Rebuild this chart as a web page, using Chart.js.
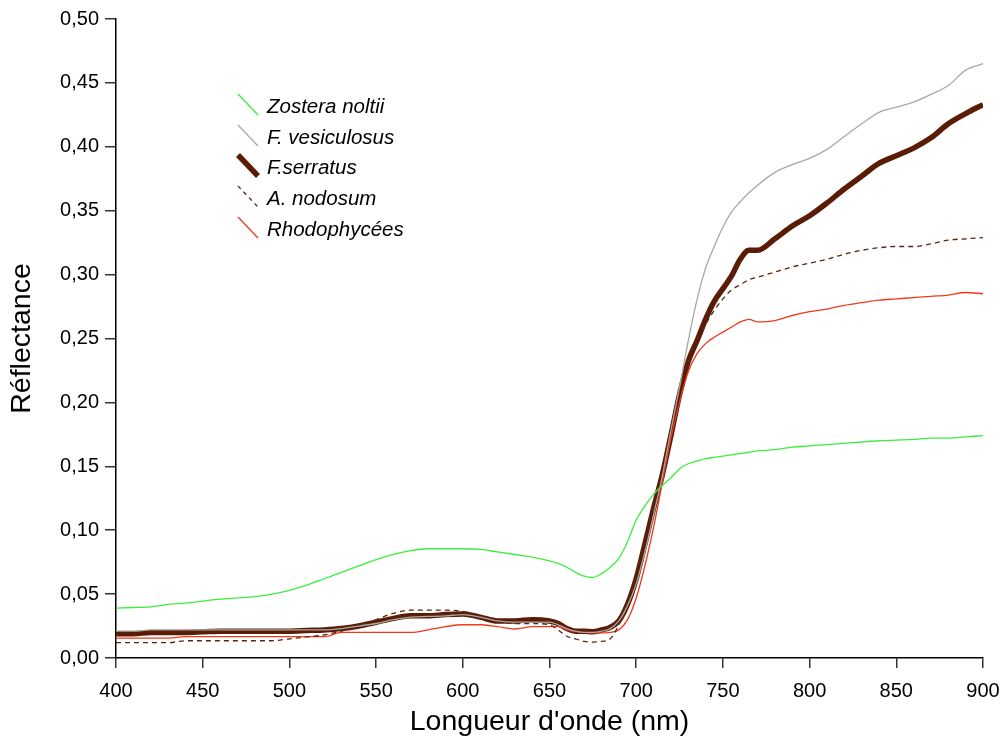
<!DOCTYPE html>
<html>
<head>
<meta charset="utf-8">
<script src="https://cdn.jsdelivr.net/npm/chart.js@4/dist/chart.umd.min.js"></script>
<style>
  html, body { margin: 0; padding: 0; background: #fff; }
  #wrap { width: 1003px; height: 740px; position: relative; }
</style>
</head>
<body>
<div id="wrap"><canvas id="c" width="1003" height="740"></canvas></div>
<script>
// Wavelength grid (nm)
const wavelengths = [400,410,420,430,440,450,460,470,480,490,500,510,520,530,540,550,560,570,580,590,600,610,620,630,640,650,655,660,665,670,675,680,685,690,695,700,705,710,715,720,725,730,735,740,745,750,755,760,765,770,780,790,800,810,820,830,840,850,860,870,880,890,900];

const zostera = [0.039,0.0395,0.040,0.042,0.043,0.0445,0.046,0.047,0.048,0.050,0.053,0.057,0.062,0.067,0.072,0.077,0.081,0.084,0.0855,0.0855,0.0855,0.085,0.083,0.081,0.079,0.076,0.074,0.071,0.067,0.064,0.063,0.066,0.071,0.078,0.091,0.108,0.119,0.128,0.135,0.141,0.148,0.152,0.154,0.156,0.157,0.158,0.159,0.160,0.161,0.162,0.163,0.165,0.166,0.167,0.168,0.169,0.170,0.1705,0.171,0.172,0.172,0.173,0.174];

const vesiculosus = [0.021,0.021,0.022,0.022,0.022,0.022,0.022,0.022,0.022,0.022,0.022,0.022,0.022,0.023,0.025,0.027,0.030,0.032,0.0325,0.033,0.034,0.032,0.029,0.028,0.028,0.028,0.026,0.023,0.021,0.020,0.020,0.021,0.023,0.029,0.041,0.058,0.083,0.112,0.142,0.178,0.212,0.248,0.280,0.305,0.322,0.337,0.349,0.357,0.364,0.370,0.380,0.386,0.391,0.398,0.408,0.418,0.427,0.431,0.435,0.441,0.448,0.460,0.465];

const serratus = [0.019,0.019,0.020,0.020,0.020,0.0205,0.021,0.021,0.021,0.021,0.021,0.0215,0.022,0.023,0.025,0.028,0.031,0.033,0.033,0.034,0.0345,0.032,0.029,0.029,0.030,0.029,0.027,0.023,0.021,0.021,0.0205,0.022,0.024,0.029,0.042,0.062,0.089,0.117,0.143,0.174,0.206,0.232,0.248,0.265,0.279,0.289,0.299,0.312,0.319,0.319,0.328,0.338,0.346,0.356,0.367,0.377,0.387,0.393,0.399,0.407,0.418,0.426,0.433];

const nodosum = [0.012,0.012,0.012,0.012,0.0135,0.0135,0.0135,0.0135,0.0135,0.0135,0.015,0.0165,0.018,0.021,0.025,0.030,0.035,0.0375,0.0375,0.0375,0.0365,0.033,0.029,0.027,0.027,0.026,0.022,0.017,0.015,0.013,0.0125,0.013,0.015,0.026,0.042,0.066,0.093,0.120,0.148,0.180,0.210,0.232,0.247,0.261,0.272,0.281,0.288,0.292,0.296,0.298,0.302,0.306,0.309,0.312,0.316,0.319,0.321,0.322,0.322,0.324,0.327,0.328,0.329];

const rhodophycees = [0.0155,0.0155,0.0155,0.0155,0.0167,0.0167,0.0167,0.0167,0.0167,0.0167,0.0167,0.0167,0.0167,0.020,0.020,0.020,0.020,0.020,0.022,0.0245,0.026,0.026,0.0245,0.0227,0.0245,0.0245,0.0245,0.022,0.0206,0.020,0.0196,0.0196,0.020,0.022,0.030,0.047,0.072,0.102,0.137,0.172,0.200,0.224,0.238,0.246,0.251,0.255,0.259,0.263,0.265,0.263,0.264,0.268,0.271,0.273,0.276,0.278,0.280,0.281,0.282,0.283,0.284,0.286,0.285];

const seriesLabels = ['Zostera noltii', 'F. vesiculosus', 'F.serratus', 'A. nodosum', 'Rhodophycées'];
const yTicks = [0,0.05,0.10,0.15,0.20,0.25,0.30,0.35,0.40,0.45,0.50];
const xTicks = [400,450,500,550,600,650,700,750,800,850,900];

function pts(arr) { return wavelengths.map((w, i) => ({x: w, y: arr[i]})); }

const styles = [
  {color: '#3cee3c', width: 1.3, dash: [], order: 0},
  {color: '#a8a8a8', width: 1.3, dash: [], order: 1},
  {color: '#5a1c04', width: 5.5, dash: [], order: 4},
  {color: '#5a2410', width: 1.3, dash: [5, 4], order: 2},
  {color: '#f2381a', width: 1.3, dash: [], order: 3}
];
const seriesValues = [zostera, vesiculosus, serratus, nodosum, rhodophycees];

const datasets = seriesValues.map((vals, i) => ({
  label: seriesLabels[i],
  data: pts(vals),
  borderColor: styles[i].color,
  borderWidth: styles[i].width,
  borderDash: styles[i].dash,
  pointRadius: 0,
  cubicInterpolationMode: 'monotone',
  fill: false,
  order: styles[i].order
}));

const FONT = '"Liberation Sans", Arial, sans-serif';

const legendPlugin = {
  id: 'customLegend',
  afterDraw(chart) {
    const ctx = chart.ctx;
    const rows = [104, 135, 165, 196, 227];
    ctx.save();
    chart.data.datasets.forEach((ds, i) => {
      const yc = rows[i];
      ctx.beginPath();
      ctx.strokeStyle = ds.borderColor;
      ctx.lineWidth = i === 2 ? 5.5 : 1.3;
      ctx.setLineDash(i === 3 ? [4, 4] : []);
      ctx.moveTo(238, yc - 10);
      ctx.lineTo(258, yc + 11);
      ctx.stroke();
      ctx.setLineDash([]);
      ctx.fillStyle = '#000';
      ctx.font = 'italic 20.5px ' + FONT;
      ctx.textAlign = 'left';
      ctx.textBaseline = 'alphabetic';
      ctx.fillText(ds.label, 267, yc + 9);
    });
    ctx.restore();
  }
};

new Chart(document.getElementById('c'), {
  type: 'line',
  data: { datasets },
  options: {
    responsive: false,
    animation: false,
    layout: { padding: { top: 19, right: 20, left: 0, bottom: 0 } },
    plugins: { legend: { display: false }, tooltip: { enabled: false } },
    scales: {
      x: {
        type: 'linear',
        min: 400, max: 900,
        afterFit(scale) { scale.height = 82; scale.paddingLeft = 0; scale.paddingRight = 0; },
        afterBuildTicks(scale) { scale.ticks = xTicks.map(v => ({value: v})); },
        border: { display: true, color: '#000', width: 1.5 },
        grid: { display: true, drawOnChartArea: false, drawTicks: true, tickLength: 10, color: '#333', lineWidth: 1.5 },
        ticks: { color: '#000', padding: 11, font: { family: FONT, size: 20 }, maxRotation: 0, autoSkip: false, callback: v => String(v) },
        title: { display: true, text: "Longueur d'onde (nm)", color: '#000', font: { family: FONT, size: 28.5 }, padding: { top: 0, bottom: 1 } }
      },
      y: {
        type: 'linear',
        min: 0, max: 0.5,
        afterFit(scale) { scale.width = 116; scale.paddingTop = 0; scale.paddingBottom = 0; },
        afterBuildTicks(scale) { scale.ticks = yTicks.map(v => ({value: v})); },
        border: { display: true, color: '#000', width: 1.5 },
        grid: { display: true, drawOnChartArea: false, drawTicks: true, tickLength: 11, color: '#333', lineWidth: 1.5 },
        ticks: { color: '#000', padding: 6, font: { family: FONT, size: 20 }, autoSkip: false, callback: v => v.toFixed(2).replace('.', ',') },
        title: { display: true, text: 'Réflectance', color: '#000', font: { family: FONT, size: 28.5 }, padding: { top: 5, bottom: 0 } }
      }
    }
  },
  plugins: [legendPlugin]
});
</script>
</body>
</html>
